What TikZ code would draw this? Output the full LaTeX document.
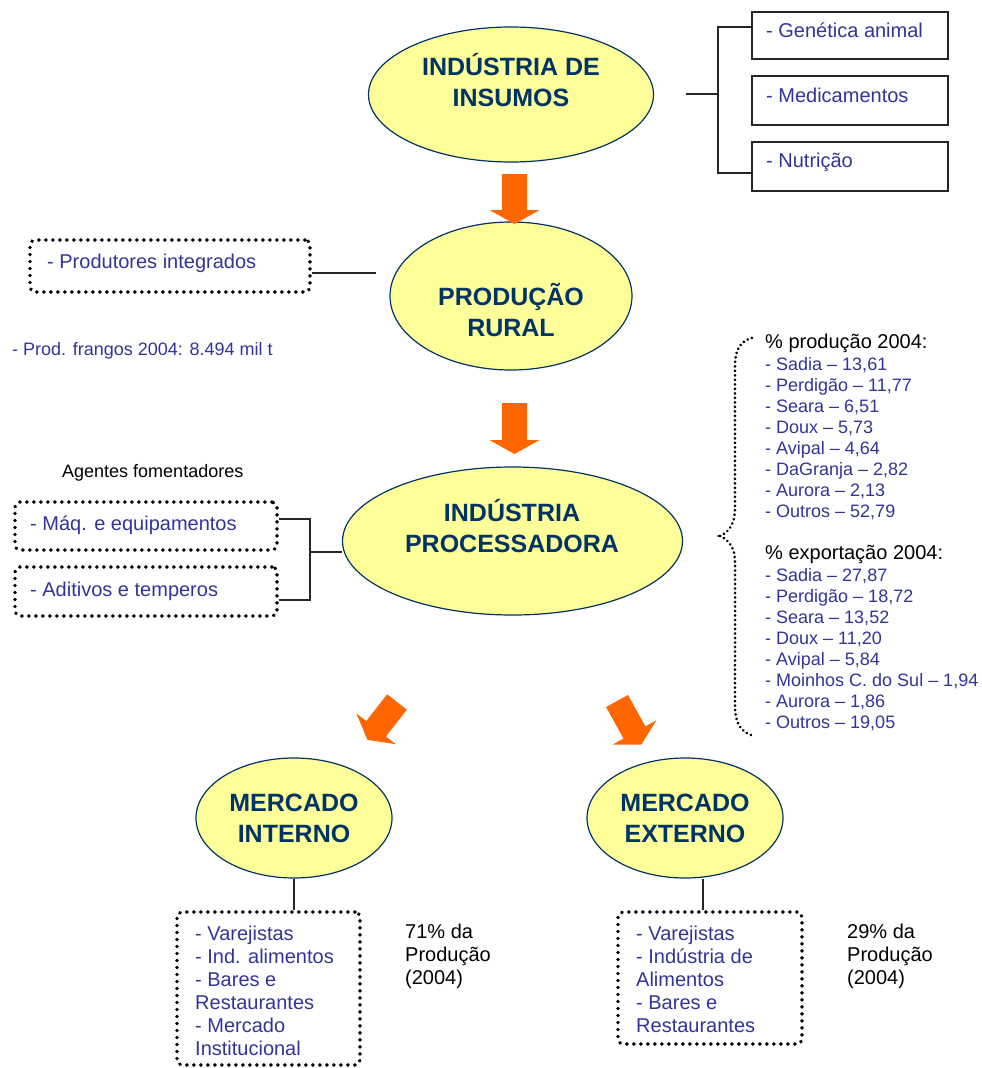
\documentclass[tikz,border=0pt]{standalone}
\usepackage{fontspec}
\setmainfont{Liberation Sans}
\usetikzlibrary{shapes.geometric}
\definecolor{navy}{HTML}{003366}
\definecolor{yel}{HTML}{FFFF99}
\definecolor{blueT}{HTML}{333399}
\definecolor{orangeA}{HTML}{FF6600}
\newcommand{\tabL}[1]{\begin{tabular}[t]{@{}l@{}}#1\end{tabular}}
\newcommand{\tabC}[1]{\begin{tabular}[t]{@{}c@{}}#1\end{tabular}}
\begin{document}
\begin{tikzpicture}[x=1pt,y=-1pt,
  ell/.style={ellipse, draw=navy, fill=yel, line width=1.2pt, inner sep=0pt},
  etxt/.style={font=\bfseries\fontsize{25}{31}\selectfont, text=navy, inner sep=0pt, anchor=base},
  bx/.style={draw=black!85, line width=1.3pt, inner sep=0pt},
  dbx/.style={draw=black, line width=3.6pt, dash pattern=on 0.3pt off 6.7pt, line cap=round, rounded corners=5pt, inner sep=0pt},
  btxt/.style={text=blueT, font=\fontsize{20}{23}\selectfont, inner sep=0pt, anchor=base west},
  ltxt/.style={text=blueT, font=\fontsize{18}{21}\selectfont, inner sep=0pt, anchor=base west},
  ktxt/.style={text=black, font=\fontsize{18}{21}\selectfont, inner sep=0pt, anchor=base west},
  kbtxt/.style={text=black, font=\fontsize{20}{23}\selectfont, inner sep=0pt, anchor=base west},
  conn/.style={draw=black!85, line width=1.3pt},
  brace/.style={draw=black, line width=2.8pt, dash pattern=on 0.2pt off 4.3pt, line cap=round},
  farrow/.style={fill=orangeA}
]
\useasboundingbox (0,0) rectangle (982,1068);

% ellipses
\node[ell, minimum width=285pt, minimum height=135pt] (insumos) at (511,94.5) {};
\node[etxt] (insumosT) at (511,75) {\tabC{INDÚSTRIA DE\\INSUMOS}};
\node[ell, minimum width=242pt, minimum height=148pt] (rural) at (511,296) {};
\node[etxt] (ruralT) at (511,305) {\tabC{PRODUÇÃO\\RURAL}};
\node[ell, minimum width=340pt, minimum height=148pt] (proc) at (512.5,541) {};
\node[etxt] (procT) at (512,521) {\tabC{INDÚSTRIA\\PROCESSADORA}};
\node[ell, minimum width=196pt, minimum height=120pt] (interno) at (294,818) {};
\node[etxt] (internoT) at (294,811) {\tabC{MERCADO\\INTERNO}};
\node[ell, minimum width=196pt, minimum height=120pt] (externo) at (685,818) {};
\node[etxt] (externoT) at (685,811) {\tabC{MERCADO\\EXTERNO}};

% orange block arrows
\fill[farrow, shift={(514.5,174)}] (-12.5,0) -- (12.5,0) -- (12.5,36) -- (25,36) -- (0,50) -- (-25,36) -- (-12.5,36) -- cycle;
\fill[farrow, shift={(514.5,403)}] (-12.5,0) -- (12.5,0) -- (12.5,37) -- (25,37) -- (0,51) -- (-25,37) -- (-12.5,37) -- cycle;
\fill[farrow, shift={(397,702)}, rotate=-38] (-12.5,0) -- (12.5,0) -- (12.5,34) -- (25,34) -- (0,48) -- (-25,34) -- (-12.5,34) -- cycle;
\fill[farrow, shift={(617,701)}, rotate=29] (-12.5,0) -- (12.5,0) -- (12.5,36) -- (25,36) -- (0,50) -- (-25,36) -- (-12.5,36) -- cycle;

% top right boxes
\node[bx, minimum width=196pt, minimum height=47pt] (gen) at (850,35.5) {};
\node[btxt] (genT) at (766,37) {- Genética animal};
\node[bx, minimum width=196pt, minimum height=49pt] (med) at (850,100.5) {};
\node[btxt] (medT) at (766,102) {- Medicamentos};
\node[bx, minimum width=196pt, minimum height=49pt] (nut) at (850,166.5) {};
\node[btxt] (nutT) at (766,167) {- Nutrição};
\coordinate (insR) at (686,94);
\draw[conn] (insR) -- (718,94);
\draw[conn] ([yshift=8.5pt]gen.west) -- (718,27) -- (718,173) -- ([yshift=-6.5pt]nut.west);

% produtores integrados
\node[dbx, minimum width=280pt, minimum height=52pt] (prod) at (170,266) {};
\node[btxt] (prodT) at (47,268) {- Produtores integrados};
\coordinate (prodR) at (376,273);
\draw[conn] ([yshift=-7pt]prod.east) -- (prodR);
\node[ltxt] (frangos) at (12,355) {- Prod. frangos 2004: 8.494 mil t};

% agentes fomentadores
\node[ktxt] (agentes) at (62,477) {Agentes fomentadores};
\node[dbx, minimum width=262pt, minimum height=48pt] (maq) at (146,526) {};
\node[btxt] (maqT) at (30,530) {- Máq. e equipamentos};
\node[dbx, minimum width=262pt, minimum height=49pt] (adit) at (146,591.5) {};
\node[btxt] (aditT) at (30,596) {- Aditivos e temperos};
\draw[conn] ([yshift=7pt]maq.east) -- (310,519) -- (310,600) -- ([yshift=-8.5pt]adit.east);
\coordinate (maqJ) at (310,552);
\draw[conn] (maqJ) -- ([yshift=-11pt]proc.west);

% brace and lists
\draw[brace] (752,338) .. controls (740,341) and (735,350) .. (735,366) -- (735,508)
  .. controls (735,524) and (729,532) .. (720,536)
  .. controls (729,540) and (735,548) .. (735,562) -- (735,706)
  .. controls (735,722) and (740,731) .. (751,735);
\node[kbtxt] (prodH) at (765,348) {\% produção 2004:};
\node[ltxt] (prodL) at (765,370) {\tabL{- Sadia – 13,61\\- Perdigão – 11,77\\- Seara – 6,51\\- Doux – 5,73\\- Avipal – 4,64\\- DaGranja – 2,82\\- Aurora – 2,13\\- Outros – 52,79}};
\node[kbtxt] (expH) at (765,559) {\% exportação 2004:};
\node[ltxt] (expL) at (765,581) {\tabL{- Sadia – 27,87\\- Perdigão – 18,72\\- Seara – 13,52\\- Doux – 11,20\\- Avipal – 5,84\\- Moinhos C. do Sul – 1,94\\- Aurora – 1,86\\- Outros – 19,05}};

% bottom boxes
\node[dbx, minimum width=183pt, minimum height=153pt] (intbox) at (268.5,988.5) {};
\node[btxt] (intT) at (195,940) {\tabL{- Varejistas\\- Ind. alimentos\\- Bares e\\Restaurantes\\- Mercado\\Institucional}};
\draw[conn] (interno.south) -- (interno.south |- intbox.north);
\node[kbtxt] (intP) at (405,938) {\tabL{71\% da\\Produção\\(2004)}};

\node[dbx, minimum width=184pt, minimum height=132pt] (extbox) at (710,978) {};
\node[btxt] (extT) at (636,940) {\tabL{- Varejistas\\- Indústria de\\Alimentos\\- Bares e\\Restaurantes}};
\draw[conn] ([xshift=18pt]externo.south) -- ([xshift=-7pt]extbox.north);
\node[kbtxt] (extP) at (847,938) {\tabL{29\% da\\Produção\\(2004)}};
\end{tikzpicture}
\end{document}
